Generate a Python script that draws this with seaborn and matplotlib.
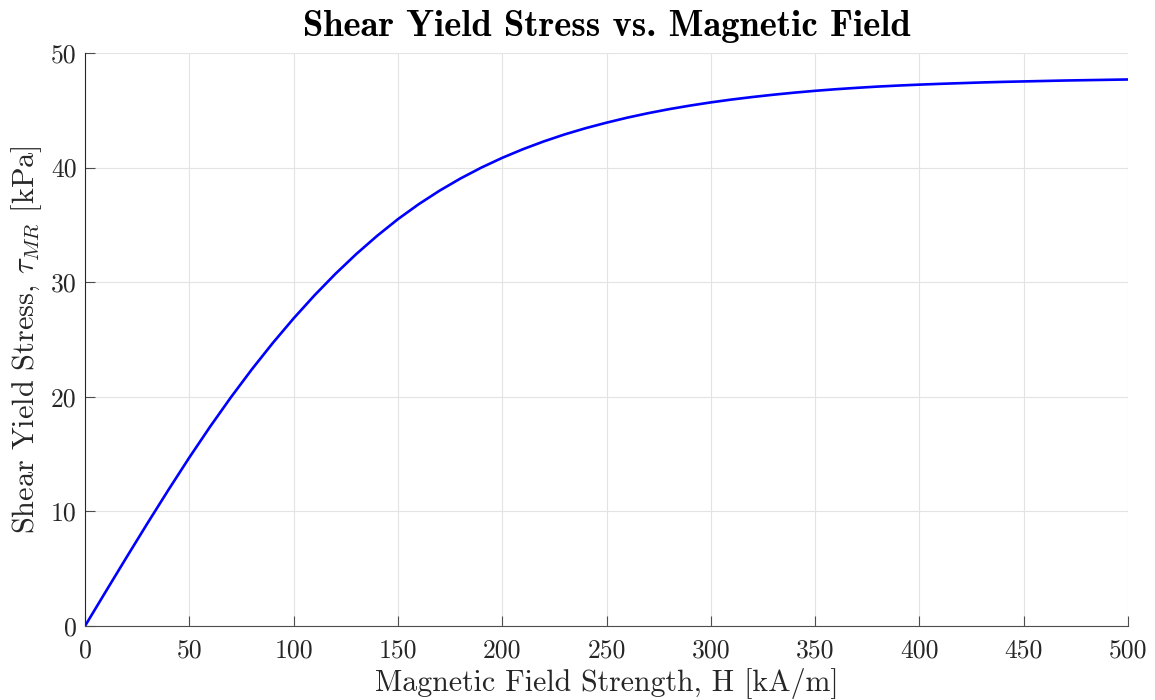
import numpy as np
import pandas as pd
import matplotlib
matplotlib.use("Agg")
import matplotlib.pyplot as plt
import seaborn as sns

# Data
field_H = [0, 10, 20, 30, 40, 50, 60, 70, 80, 90, 100, 110, 120, 130, 140, 150,
           160, 170, 180, 190, 200, 210, 220, 230, 240, 250, 260, 270, 280, 290,
           300, 310, 320, 330, 340, 350, 360, 370, 380, 390, 400, 410, 420, 430,
           440, 450, 460, 470, 480, 490, 500]
tau_MR = [0.0, 3.02, 6.02, 8.98, 11.88, 14.70, 17.40, 19.97, 22.40, 24.69, 26.84,
          28.85, 30.72, 32.45, 34.04, 35.50, 36.81, 37.99, 39.05, 40.00, 40.85,
          41.61, 42.29, 42.90, 43.44, 43.92, 44.36, 44.75, 45.10, 45.41, 45.69,
          45.94, 46.16, 46.36, 46.54, 46.70, 46.84, 46.96, 47.07, 47.16, 47.24,
          47.31, 47.37, 47.43, 47.48, 47.52, 47.56, 47.60, 47.63, 47.66, 47.69]
x_ticks = [0, 50, 100, 150, 200, 250, 300, 350, 400, 450, 500]
y_ticks = [0, 10, 20, 30, 40, 50]

sns.set_theme(style="whitegrid")
plt.rcParams['font.family'] = ['cmr10', 'DejaVu Serif']
plt.rcParams['mathtext.fontset'] = 'cm'
plt.rcParams['axes.unicode_minus'] = False
plt.rcParams['axes.formatter.use_mathtext'] = True

df = pd.DataFrame({"H": field_H, "tau": tau_MR})

fig = plt.figure(figsize=(11.55, 7.0), dpi=100)
ax = fig.add_axes([85/1155, 1 - 626/700, (1128-85)/1155, (626-53)/700])

sns.lineplot(data=df, x="H", y="tau", ax=ax, color=(0, 0, 1), linewidth=1.9)

ax.set_xlim(0, 500)
ax.set_ylim(0, 50)
ax.set_xticks(x_ticks)
ax.set_yticks(y_ticks)
ax.set_xticklabels([str(v) for v in x_ticks])
ax.set_yticklabels([str(v) for v in y_ticks])

ax.grid(True, color="#e3e3e3", linewidth=0.8)
for s in ["top", "right"]:
    ax.spines[s].set_visible(False)
for s in ["left", "bottom"]:
    ax.spines[s].set_visible(True)
    ax.spines[s].set_color("#262626")
    ax.spines[s].set_linewidth(0.8)
ax.spines["bottom"].set_color("#4d4d4d")
ax.tick_params(axis="both", direction="in", length=7, width=0.8, color="#4d4d4d",
               labelsize=18.5, labelcolor="#262626", left=True, bottom=True)
ax.tick_params(axis="x", pad=9)
ax.tick_params(axis="y", pad=6)

ax.set_xlabel("Magnetic Field Strength, H [kA/m]", fontsize=21.5, color="#262626", labelpad=4)
ax.set_ylabel(r"Shear Yield Stress, $\tau_{MR}$ [kPa]", fontsize=21.8, color="#262626", labelpad=5)
ax.set_title("Shear Yield Stress vs. Magnetic Field", fontsize=26.4, fontfamily=['cmb10', 'DejaVu Serif'],
             color="black", pad=12)

fig.savefig("out.png", dpi=100)
